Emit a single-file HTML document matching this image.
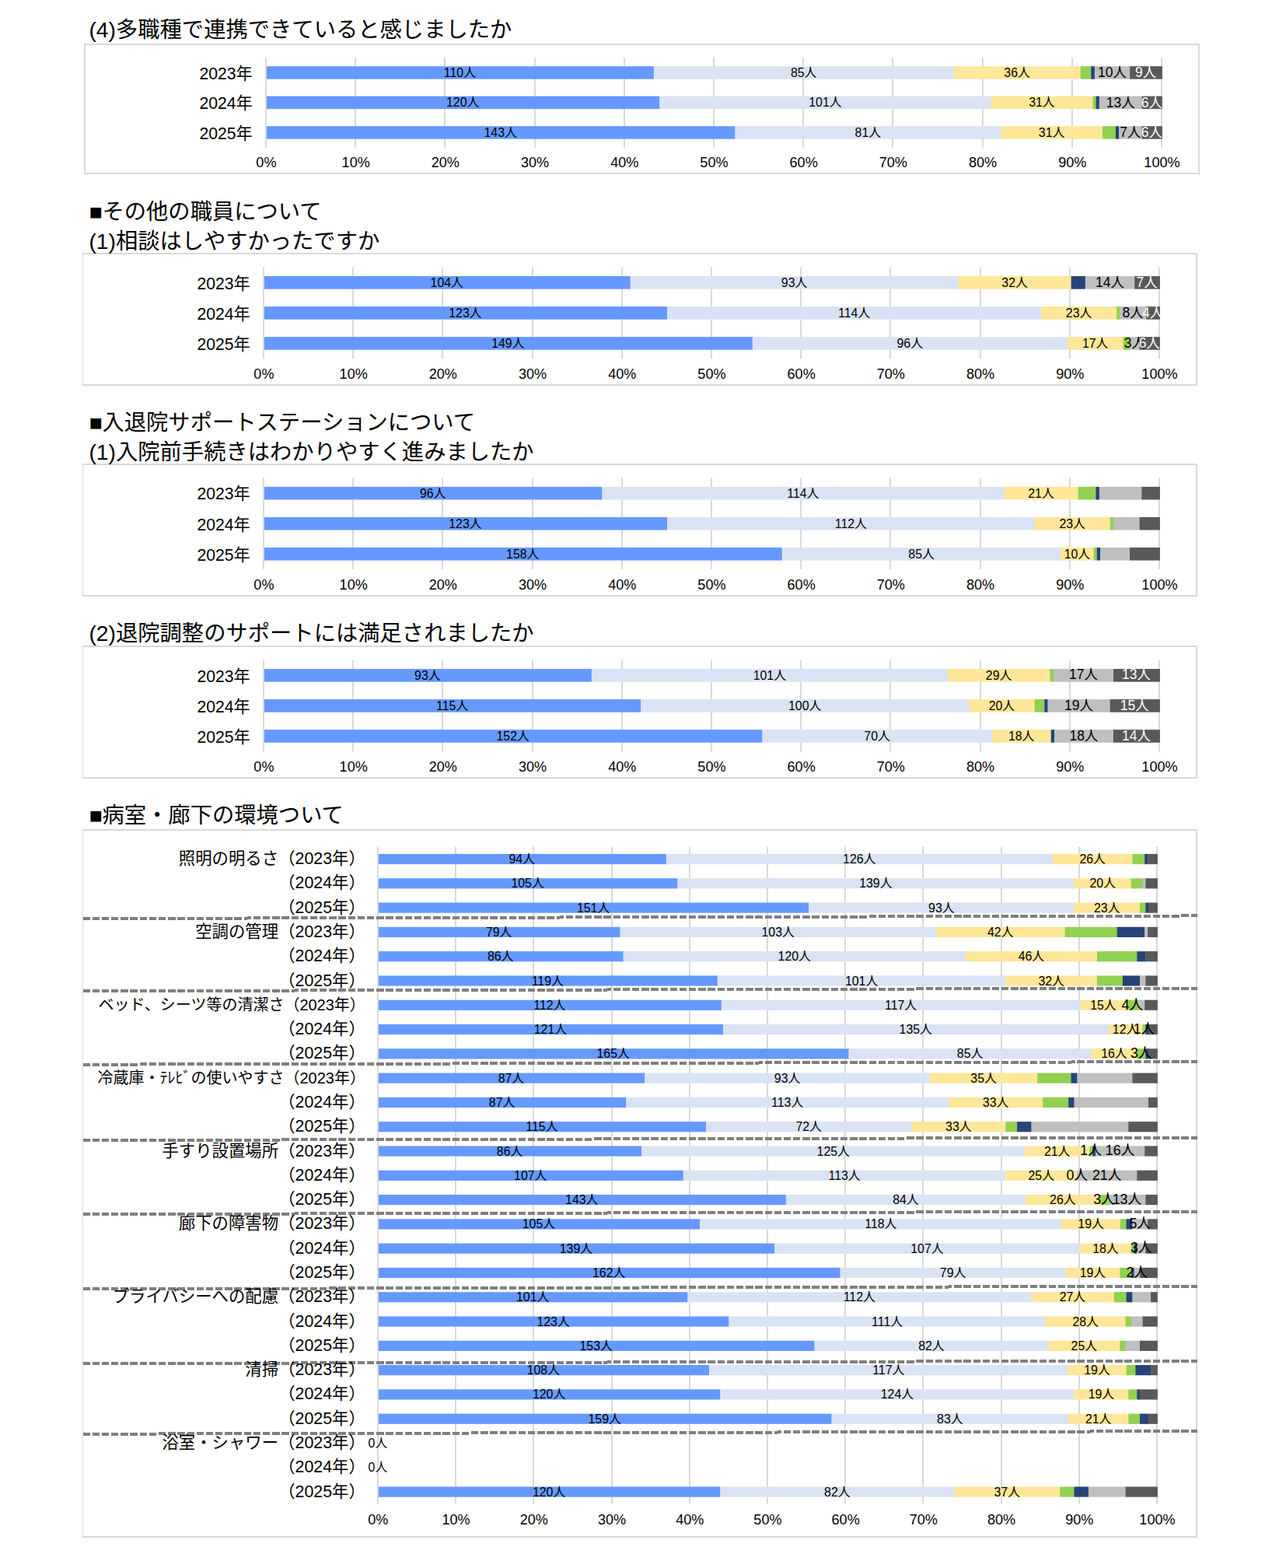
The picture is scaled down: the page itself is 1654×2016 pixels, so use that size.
<!DOCTYPE html>
<html lang="ja">
<head>
<meta charset="utf-8">
<title>患者満足度調査 集計グラフ</title>
<style>
html,body{margin:0;padding:0;background:#fff}
body{position:relative;width:1654px;height:2016px;overflow:hidden;font-family:"Liberation Sans","Noto Sans CJK JP",sans-serif}
svg{position:absolute;left:0;top:0;display:block}
#tl span,#tl h2{position:absolute;display:block;margin:0;font-weight:normal;white-space:nowrap;overflow:visible;line-height:1;color:#000;font-family:"Liberation Sans","Noto Sans CJK JP",sans-serif}
#tl span{text-align:center}
#tl span.r{display:flex;justify-content:flex-end;text-align:right}
#tl span.w{color:#fff}
</style>
</head>
<body>
<svg width="1654" height="2016" viewBox="0 0 1654 2016">
<g id="shapes">
<path fill="#D9D9D9" fill-rule="evenodd" d="M108 56H1543V224H108ZM110 58H1541V222H110Z"/>
<rect x="341" y="74.20" width="2" height="115.60" fill="#D9D9D9"/>
<rect x="456" y="74.20" width="2" height="115.60" fill="#D9D9D9"/>
<rect x="571" y="74.20" width="2" height="115.60" fill="#D9D9D9"/>
<rect x="687" y="74.20" width="2" height="115.60" fill="#D9D9D9"/>
<rect x="802" y="74.20" width="2" height="115.60" fill="#D9D9D9"/>
<rect x="917" y="74.20" width="2" height="115.60" fill="#D9D9D9"/>
<rect x="1032" y="74.20" width="2" height="115.60" fill="#D9D9D9"/>
<rect x="1147" y="74.20" width="2" height="115.60" fill="#D9D9D9"/>
<rect x="1263" y="74.20" width="2" height="115.60" fill="#D9D9D9"/>
<rect x="1378" y="74.20" width="2" height="115.60" fill="#D9D9D9"/>
<rect x="1493" y="74.20" width="2" height="115.60" fill="#D9D9D9"/>
<rect x="342.00" y="85.20" width="499.20" height="16.50" fill="#6699FF"/>
<rect x="840.90" y="85.20" width="385.81" height="16.50" fill="#DAE3F3"/>
<rect x="1226.41" y="85.20" width="163.58" height="16.50" fill="#FFE699"/>
<rect x="1389.69" y="85.20" width="13.91" height="16.50" fill="#92D050"/>
<rect x="1403.29" y="85.20" width="4.84" height="16.50" fill="#264478"/>
<rect x="1407.83" y="85.20" width="45.65" height="16.50" fill="#BFBFBF"/>
<rect x="1453.18" y="85.20" width="41.72" height="16.50" fill="#595959"/>
<rect x="342.00" y="123.65" width="506.67" height="16.50" fill="#6699FF"/>
<rect x="848.37" y="123.65" width="426.50" height="16.50" fill="#DAE3F3"/>
<rect x="1274.57" y="123.65" width="131.11" height="16.50" fill="#FFE699"/>
<rect x="1405.38" y="123.65" width="4.52" height="16.50" fill="#92D050"/>
<rect x="1409.60" y="123.65" width="4.52" height="16.50" fill="#264478"/>
<rect x="1413.82" y="123.65" width="55.16" height="16.50" fill="#BFBFBF"/>
<rect x="1468.68" y="123.65" width="26.22" height="16.50" fill="#595959"/>
<rect x="342.00" y="162.20" width="603.73" height="16.50" fill="#6699FF"/>
<rect x="945.43" y="162.20" width="342.10" height="16.50" fill="#DAE3F3"/>
<rect x="1287.23" y="162.20" width="131.11" height="16.50" fill="#FFE699"/>
<rect x="1418.04" y="162.20" width="17.18" height="16.50" fill="#92D050"/>
<rect x="1434.92" y="162.20" width="4.52" height="16.50" fill="#264478"/>
<rect x="1439.14" y="162.20" width="29.84" height="16.50" fill="#BFBFBF"/>
<rect x="1468.68" y="162.20" width="26.22" height="16.50" fill="#595959"/>
<rect x="341" y="74.20" width="2" height="115.60" fill="#D9D9D9"/>
<path fill="#D9D9D9" fill-rule="evenodd" d="M106 325H1540V496H106ZM107 327H1538V494H107Z"/>
<rect x="338" y="343.60" width="2" height="117.60" fill="#D9D9D9"/>
<rect x="453" y="343.60" width="2" height="117.60" fill="#D9D9D9"/>
<rect x="568" y="343.60" width="2" height="117.60" fill="#D9D9D9"/>
<rect x="684" y="343.60" width="2" height="117.60" fill="#D9D9D9"/>
<rect x="799" y="343.60" width="2" height="117.60" fill="#D9D9D9"/>
<rect x="914" y="343.60" width="2" height="117.60" fill="#D9D9D9"/>
<rect x="1029" y="343.60" width="2" height="117.60" fill="#D9D9D9"/>
<rect x="1144" y="343.60" width="2" height="117.60" fill="#D9D9D9"/>
<rect x="1260" y="343.60" width="2" height="117.60" fill="#D9D9D9"/>
<rect x="1375" y="343.60" width="2" height="117.60" fill="#D9D9D9"/>
<rect x="1490" y="343.60" width="2" height="117.60" fill="#D9D9D9"/>
<rect x="339.00" y="355.05" width="471.99" height="16.60" fill="#6699FF"/>
<rect x="810.69" y="355.05" width="422.10" height="16.60" fill="#DAE3F3"/>
<rect x="1232.48" y="355.05" width="145.43" height="16.60" fill="#FFE699"/>
<rect x="1377.61" y="355.05" width="18.44" height="16.60" fill="#264478"/>
<rect x="1395.76" y="355.05" width="63.80" height="16.60" fill="#BFBFBF"/>
<rect x="1459.25" y="355.05" width="32.65" height="16.60" fill="#595959"/>
<rect x="339.00" y="394.10" width="519.33" height="16.60" fill="#6699FF"/>
<rect x="858.03" y="394.10" width="481.35" height="16.60" fill="#DAE3F3"/>
<rect x="1339.09" y="394.10" width="97.35" height="16.60" fill="#FFE699"/>
<rect x="1436.14" y="394.10" width="4.52" height="16.60" fill="#92D050"/>
<rect x="1440.36" y="394.10" width="34.06" height="16.60" fill="#BFBFBF"/>
<rect x="1474.12" y="394.10" width="17.78" height="16.60" fill="#595959"/>
<rect x="339.00" y="433.15" width="629.05" height="16.60" fill="#6699FF"/>
<rect x="967.75" y="433.15" width="405.40" height="16.60" fill="#DAE3F3"/>
<rect x="1372.85" y="433.15" width="72.04" height="16.60" fill="#FFE699"/>
<rect x="1444.58" y="433.15" width="8.74" height="16.60" fill="#92D050"/>
<rect x="1453.02" y="433.15" width="12.96" height="16.60" fill="#BFBFBF"/>
<rect x="1465.68" y="433.15" width="26.22" height="16.60" fill="#595959"/>
<rect x="338" y="343.60" width="2" height="117.60" fill="#D9D9D9"/>
<path fill="#D9D9D9" fill-rule="evenodd" d="M106 596H1540V767H106ZM107 598H1538V765H107Z"/>
<rect x="338" y="614.40" width="2" height="117.60" fill="#D9D9D9"/>
<rect x="453" y="614.40" width="2" height="117.60" fill="#D9D9D9"/>
<rect x="568" y="614.40" width="2" height="117.60" fill="#D9D9D9"/>
<rect x="684" y="614.40" width="2" height="117.60" fill="#D9D9D9"/>
<rect x="799" y="614.40" width="2" height="117.60" fill="#D9D9D9"/>
<rect x="914" y="614.40" width="2" height="117.60" fill="#D9D9D9"/>
<rect x="1029" y="614.40" width="2" height="117.60" fill="#D9D9D9"/>
<rect x="1144" y="614.40" width="2" height="117.60" fill="#D9D9D9"/>
<rect x="1260" y="614.40" width="2" height="117.60" fill="#D9D9D9"/>
<rect x="1375" y="614.40" width="2" height="117.60" fill="#D9D9D9"/>
<rect x="1490" y="614.40" width="2" height="117.60" fill="#D9D9D9"/>
<rect x="339.00" y="625.85" width="435.70" height="16.60" fill="#6699FF"/>
<rect x="774.40" y="625.85" width="517.34" height="16.60" fill="#DAE3F3"/>
<rect x="1291.44" y="625.85" width="95.54" height="16.60" fill="#FFE699"/>
<rect x="1386.69" y="625.85" width="22.98" height="16.60" fill="#92D050"/>
<rect x="1409.36" y="625.85" width="4.84" height="16.60" fill="#264478"/>
<rect x="1413.90" y="625.85" width="54.73" height="16.60" fill="#BFBFBF"/>
<rect x="1468.32" y="625.85" width="23.58" height="16.60" fill="#595959"/>
<rect x="339.00" y="664.90" width="519.33" height="16.60" fill="#6699FF"/>
<rect x="858.03" y="664.90" width="472.92" height="16.60" fill="#DAE3F3"/>
<rect x="1330.65" y="664.90" width="97.35" height="16.60" fill="#FFE699"/>
<rect x="1427.70" y="664.90" width="4.52" height="16.60" fill="#92D050"/>
<rect x="1431.92" y="664.90" width="34.06" height="16.60" fill="#BFBFBF"/>
<rect x="1465.68" y="664.90" width="26.22" height="16.60" fill="#595959"/>
<rect x="339.00" y="703.95" width="667.03" height="16.60" fill="#6699FF"/>
<rect x="1005.73" y="703.95" width="358.98" height="16.60" fill="#DAE3F3"/>
<rect x="1364.41" y="703.95" width="42.50" height="16.60" fill="#FFE699"/>
<rect x="1406.60" y="703.95" width="4.52" height="16.60" fill="#92D050"/>
<rect x="1410.82" y="703.95" width="4.52" height="16.60" fill="#264478"/>
<rect x="1415.04" y="703.95" width="38.28" height="16.60" fill="#BFBFBF"/>
<rect x="1453.02" y="703.95" width="38.88" height="16.60" fill="#595959"/>
<rect x="338" y="614.40" width="2" height="117.60" fill="#D9D9D9"/>
<path fill="#D9D9D9" fill-rule="evenodd" d="M106 830H1540V1001H106ZM107 832H1538V999H107Z"/>
<rect x="338" y="848.60" width="2" height="117.60" fill="#D9D9D9"/>
<rect x="453" y="848.60" width="2" height="117.60" fill="#D9D9D9"/>
<rect x="568" y="848.60" width="2" height="117.60" fill="#D9D9D9"/>
<rect x="684" y="848.60" width="2" height="117.60" fill="#D9D9D9"/>
<rect x="799" y="848.60" width="2" height="117.60" fill="#D9D9D9"/>
<rect x="914" y="848.60" width="2" height="117.60" fill="#D9D9D9"/>
<rect x="1029" y="848.60" width="2" height="117.60" fill="#D9D9D9"/>
<rect x="1144" y="848.60" width="2" height="117.60" fill="#D9D9D9"/>
<rect x="1260" y="848.60" width="2" height="117.60" fill="#D9D9D9"/>
<rect x="1375" y="848.60" width="2" height="117.60" fill="#D9D9D9"/>
<rect x="1490" y="848.60" width="2" height="117.60" fill="#D9D9D9"/>
<rect x="339.00" y="860.05" width="422.10" height="16.60" fill="#6699FF"/>
<rect x="760.80" y="860.05" width="458.38" height="16.60" fill="#DAE3F3"/>
<rect x="1218.87" y="860.05" width="131.83" height="16.60" fill="#FFE699"/>
<rect x="1350.40" y="860.05" width="4.84" height="16.60" fill="#92D050"/>
<rect x="1354.94" y="860.05" width="77.40" height="16.60" fill="#BFBFBF"/>
<rect x="1432.04" y="860.05" width="59.86" height="16.60" fill="#595959"/>
<rect x="339.00" y="899.10" width="485.57" height="16.60" fill="#6699FF"/>
<rect x="824.27" y="899.10" width="422.28" height="16.60" fill="#DAE3F3"/>
<rect x="1246.25" y="899.10" width="84.70" height="16.60" fill="#FFE699"/>
<rect x="1330.65" y="899.10" width="12.96" height="16.60" fill="#92D050"/>
<rect x="1343.31" y="899.10" width="4.52" height="16.60" fill="#264478"/>
<rect x="1347.53" y="899.10" width="80.48" height="16.60" fill="#BFBFBF"/>
<rect x="1427.70" y="899.10" width="64.20" height="16.60" fill="#595959"/>
<rect x="339.00" y="938.15" width="641.71" height="16.60" fill="#6699FF"/>
<rect x="980.41" y="938.15" width="295.68" height="16.60" fill="#DAE3F3"/>
<rect x="1275.79" y="938.15" width="76.26" height="16.60" fill="#FFE699"/>
<rect x="1351.75" y="938.15" width="4.52" height="16.60" fill="#264478"/>
<rect x="1355.97" y="938.15" width="76.26" height="16.60" fill="#BFBFBF"/>
<rect x="1431.92" y="938.15" width="59.98" height="16.60" fill="#595959"/>
<rect x="338" y="848.60" width="2" height="117.60" fill="#D9D9D9"/>
<path fill="#D9D9D9" fill-rule="evenodd" d="M106 1066H1540V1977H106ZM107 1068H1538V1975H107Z"/>
<rect x="485" y="1088.60" width="2" height="845.00" fill="#D9D9D9"/>
<rect x="585" y="1088.60" width="2" height="845.00" fill="#D9D9D9"/>
<rect x="685" y="1088.60" width="2" height="845.00" fill="#D9D9D9"/>
<rect x="786" y="1088.60" width="2" height="845.00" fill="#D9D9D9"/>
<rect x="886" y="1088.60" width="2" height="845.00" fill="#D9D9D9"/>
<rect x="986" y="1088.60" width="2" height="845.00" fill="#D9D9D9"/>
<rect x="1086" y="1088.60" width="2" height="845.00" fill="#D9D9D9"/>
<rect x="1186" y="1088.60" width="2" height="845.00" fill="#D9D9D9"/>
<rect x="1287" y="1088.60" width="2" height="845.00" fill="#D9D9D9"/>
<rect x="1387" y="1088.60" width="2" height="845.00" fill="#D9D9D9"/>
<rect x="1487" y="1088.60" width="2" height="845.00" fill="#D9D9D9"/>
<rect x="485.90" y="1097.95" width="371.16" height="13.20" fill="#6699FF"/>
<rect x="856.76" y="1097.95" width="497.40" height="13.20" fill="#DAE3F3"/>
<rect x="1353.86" y="1097.95" width="102.88" height="13.20" fill="#FFE699"/>
<rect x="1456.44" y="1097.95" width="16.08" height="13.20" fill="#92D050"/>
<rect x="1472.22" y="1097.95" width="4.25" height="13.20" fill="#264478"/>
<rect x="1476.16" y="1097.95" width="12.74" height="13.20" fill="#595959"/>
<rect x="485.90" y="1129.24" width="385.72" height="13.20" fill="#6699FF"/>
<rect x="871.32" y="1129.24" width="510.53" height="13.20" fill="#DAE3F3"/>
<rect x="1381.55" y="1129.24" width="73.71" height="13.20" fill="#FFE699"/>
<rect x="1454.96" y="1129.24" width="14.98" height="13.20" fill="#92D050"/>
<rect x="1469.65" y="1129.24" width="3.97" height="13.20" fill="#BFBFBF"/>
<rect x="1473.32" y="1129.24" width="15.58" height="13.20" fill="#595959"/>
<rect x="485.90" y="1160.53" width="554.58" height="13.20" fill="#6699FF"/>
<rect x="1040.18" y="1160.53" width="341.67" height="13.20" fill="#DAE3F3"/>
<rect x="1381.55" y="1160.53" width="84.73" height="13.20" fill="#FFE699"/>
<rect x="1465.98" y="1160.53" width="7.64" height="13.20" fill="#92D050"/>
<rect x="1473.32" y="1160.53" width="3.97" height="13.20" fill="#264478"/>
<rect x="1476.99" y="1160.53" width="11.91" height="13.20" fill="#595959"/>
<rect x="485.90" y="1191.82" width="311.98" height="13.20" fill="#6699FF"/>
<rect x="797.58" y="1191.82" width="406.66" height="13.20" fill="#DAE3F3"/>
<rect x="1203.94" y="1191.82" width="166.00" height="13.20" fill="#FFE699"/>
<rect x="1369.64" y="1191.82" width="67.37" height="13.20" fill="#92D050"/>
<rect x="1436.71" y="1191.82" width="35.81" height="13.20" fill="#264478"/>
<rect x="1472.22" y="1191.82" width="4.25" height="13.20" fill="#BFBFBF"/>
<rect x="1476.16" y="1191.82" width="12.74" height="13.20" fill="#595959"/>
<rect x="485.90" y="1223.11" width="315.98" height="13.20" fill="#6699FF"/>
<rect x="801.58" y="1223.11" width="440.78" height="13.20" fill="#DAE3F3"/>
<rect x="1242.06" y="1223.11" width="169.15" height="13.20" fill="#FFE699"/>
<rect x="1410.92" y="1223.11" width="51.69" height="13.20" fill="#92D050"/>
<rect x="1462.31" y="1223.11" width="11.31" height="13.20" fill="#264478"/>
<rect x="1473.32" y="1223.11" width="15.58" height="13.20" fill="#595959"/>
<rect x="485.90" y="1254.40" width="437.11" height="13.20" fill="#6699FF"/>
<rect x="922.71" y="1254.40" width="371.04" height="13.20" fill="#DAE3F3"/>
<rect x="1293.45" y="1254.40" width="117.76" height="13.20" fill="#FFE699"/>
<rect x="1410.92" y="1254.40" width="33.34" height="13.20" fill="#92D050"/>
<rect x="1443.95" y="1254.40" width="22.32" height="13.20" fill="#264478"/>
<rect x="1465.98" y="1254.40" width="7.64" height="13.20" fill="#BFBFBF"/>
<rect x="1473.32" y="1254.40" width="15.58" height="13.20" fill="#595959"/>
<rect x="485.90" y="1285.69" width="442.17" height="13.20" fill="#6699FF"/>
<rect x="927.77" y="1285.69" width="461.90" height="13.20" fill="#DAE3F3"/>
<rect x="1389.37" y="1285.69" width="59.48" height="13.20" fill="#FFE699"/>
<rect x="1448.55" y="1285.69" width="16.08" height="13.20" fill="#92D050"/>
<rect x="1464.33" y="1285.69" width="8.19" height="13.20" fill="#BFBFBF"/>
<rect x="1472.22" y="1285.69" width="16.68" height="13.20" fill="#595959"/>
<rect x="485.90" y="1316.98" width="444.45" height="13.20" fill="#6699FF"/>
<rect x="930.05" y="1316.98" width="495.84" height="13.20" fill="#DAE3F3"/>
<rect x="1425.60" y="1316.98" width="44.35" height="13.20" fill="#FFE699"/>
<rect x="1469.65" y="1316.98" width="3.97" height="13.20" fill="#92D050"/>
<rect x="1473.32" y="1316.98" width="3.97" height="13.20" fill="#264478"/>
<rect x="1476.99" y="1316.98" width="11.91" height="13.20" fill="#595959"/>
<rect x="485.90" y="1348.27" width="605.96" height="13.20" fill="#6699FF"/>
<rect x="1091.56" y="1348.27" width="312.31" height="13.20" fill="#DAE3F3"/>
<rect x="1403.57" y="1348.27" width="59.03" height="13.20" fill="#FFE699"/>
<rect x="1462.31" y="1348.27" width="11.31" height="13.20" fill="#92D050"/>
<rect x="1473.32" y="1348.27" width="3.97" height="13.20" fill="#264478"/>
<rect x="1476.99" y="1348.27" width="11.91" height="13.20" fill="#595959"/>
<rect x="485.90" y="1379.56" width="343.54" height="13.20" fill="#6699FF"/>
<rect x="829.14" y="1379.56" width="367.21" height="13.20" fill="#DAE3F3"/>
<rect x="1196.05" y="1379.56" width="138.38" height="13.20" fill="#FFE699"/>
<rect x="1334.13" y="1379.56" width="43.70" height="13.20" fill="#92D050"/>
<rect x="1377.53" y="1379.56" width="8.19" height="13.20" fill="#264478"/>
<rect x="1385.42" y="1379.56" width="71.31" height="13.20" fill="#BFBFBF"/>
<rect x="1456.44" y="1379.56" width="32.46" height="13.20" fill="#595959"/>
<rect x="485.90" y="1410.85" width="319.65" height="13.20" fill="#6699FF"/>
<rect x="805.25" y="1410.85" width="415.09" height="13.20" fill="#DAE3F3"/>
<rect x="1220.04" y="1410.85" width="121.43" height="13.20" fill="#FFE699"/>
<rect x="1341.17" y="1410.85" width="33.34" height="13.20" fill="#92D050"/>
<rect x="1374.21" y="1410.85" width="7.64" height="13.20" fill="#264478"/>
<rect x="1381.55" y="1410.85" width="95.74" height="13.20" fill="#BFBFBF"/>
<rect x="1476.99" y="1410.85" width="11.91" height="13.20" fill="#595959"/>
<rect x="485.90" y="1442.14" width="422.43" height="13.20" fill="#6699FF"/>
<rect x="908.03" y="1442.14" width="264.59" height="13.20" fill="#DAE3F3"/>
<rect x="1172.32" y="1442.14" width="121.43" height="13.20" fill="#FFE699"/>
<rect x="1293.45" y="1442.14" width="14.98" height="13.20" fill="#92D050"/>
<rect x="1308.14" y="1442.14" width="18.65" height="13.20" fill="#264478"/>
<rect x="1326.49" y="1442.14" width="125.10" height="13.20" fill="#BFBFBF"/>
<rect x="1451.29" y="1442.14" width="37.61" height="13.20" fill="#595959"/>
<rect x="485.90" y="1473.43" width="339.59" height="13.20" fill="#6699FF"/>
<rect x="825.19" y="1473.43" width="493.46" height="13.20" fill="#DAE3F3"/>
<rect x="1318.35" y="1473.43" width="83.15" height="13.20" fill="#FFE699"/>
<rect x="1401.20" y="1473.43" width="4.25" height="13.20" fill="#92D050"/>
<rect x="1405.15" y="1473.43" width="4.25" height="13.20" fill="#264478"/>
<rect x="1409.09" y="1473.43" width="63.42" height="13.20" fill="#BFBFBF"/>
<rect x="1472.22" y="1473.43" width="16.68" height="13.20" fill="#595959"/>
<rect x="485.90" y="1504.72" width="393.06" height="13.20" fill="#6699FF"/>
<rect x="878.66" y="1504.72" width="415.09" height="13.20" fill="#DAE3F3"/>
<rect x="1293.45" y="1504.72" width="92.07" height="13.20" fill="#FFE699"/>
<rect x="1385.22" y="1504.72" width="77.38" height="13.20" fill="#BFBFBF"/>
<rect x="1462.31" y="1504.72" width="26.59" height="13.20" fill="#595959"/>
<rect x="485.90" y="1536.01" width="525.21" height="13.20" fill="#6699FF"/>
<rect x="1010.81" y="1536.01" width="308.64" height="13.20" fill="#DAE3F3"/>
<rect x="1319.15" y="1536.01" width="95.74" height="13.20" fill="#FFE699"/>
<rect x="1414.59" y="1536.01" width="11.31" height="13.20" fill="#92D050"/>
<rect x="1425.60" y="1536.01" width="48.02" height="13.20" fill="#BFBFBF"/>
<rect x="1473.32" y="1536.01" width="15.58" height="13.20" fill="#595959"/>
<rect x="485.90" y="1567.30" width="414.55" height="13.20" fill="#6699FF"/>
<rect x="900.15" y="1567.30" width="465.84" height="13.20" fill="#DAE3F3"/>
<rect x="1365.70" y="1567.30" width="75.26" height="13.20" fill="#FFE699"/>
<rect x="1440.66" y="1567.30" width="8.19" height="13.20" fill="#92D050"/>
<rect x="1448.55" y="1567.30" width="8.19" height="13.20" fill="#264478"/>
<rect x="1456.44" y="1567.30" width="20.03" height="13.20" fill="#BFBFBF"/>
<rect x="1476.16" y="1567.30" width="12.74" height="13.20" fill="#595959"/>
<rect x="485.90" y="1598.59" width="510.53" height="13.20" fill="#6699FF"/>
<rect x="996.13" y="1598.59" width="393.06" height="13.20" fill="#DAE3F3"/>
<rect x="1388.89" y="1598.59" width="66.37" height="13.20" fill="#FFE699"/>
<rect x="1454.96" y="1598.59" width="3.97" height="13.20" fill="#92D050"/>
<rect x="1458.63" y="1598.59" width="3.97" height="13.20" fill="#264478"/>
<rect x="1462.31" y="1598.59" width="11.31" height="13.20" fill="#BFBFBF"/>
<rect x="1473.32" y="1598.59" width="15.58" height="13.20" fill="#595959"/>
<rect x="485.90" y="1629.88" width="594.95" height="13.20" fill="#6699FF"/>
<rect x="1080.55" y="1629.88" width="290.28" height="13.20" fill="#DAE3F3"/>
<rect x="1370.54" y="1629.88" width="70.04" height="13.20" fill="#FFE699"/>
<rect x="1440.28" y="1629.88" width="14.98" height="13.20" fill="#92D050"/>
<rect x="1454.96" y="1629.88" width="3.97" height="13.20" fill="#264478"/>
<rect x="1458.63" y="1629.88" width="7.64" height="13.20" fill="#BFBFBF"/>
<rect x="1465.98" y="1629.88" width="22.92" height="13.20" fill="#595959"/>
<rect x="485.90" y="1661.17" width="398.77" height="13.20" fill="#6699FF"/>
<rect x="884.37" y="1661.17" width="442.17" height="13.20" fill="#DAE3F3"/>
<rect x="1326.24" y="1661.17" width="106.82" height="13.20" fill="#FFE699"/>
<rect x="1432.77" y="1661.17" width="16.08" height="13.20" fill="#92D050"/>
<rect x="1448.55" y="1661.17" width="8.19" height="13.20" fill="#264478"/>
<rect x="1456.44" y="1661.17" width="23.97" height="13.20" fill="#BFBFBF"/>
<rect x="1480.11" y="1661.17" width="8.79" height="13.20" fill="#595959"/>
<rect x="485.90" y="1692.46" width="451.80" height="13.20" fill="#6699FF"/>
<rect x="937.40" y="1692.46" width="407.75" height="13.20" fill="#DAE3F3"/>
<rect x="1344.84" y="1692.46" width="103.08" height="13.20" fill="#FFE699"/>
<rect x="1447.62" y="1692.46" width="7.64" height="13.20" fill="#92D050"/>
<rect x="1454.96" y="1692.46" width="14.98" height="13.20" fill="#BFBFBF"/>
<rect x="1469.65" y="1692.46" width="19.25" height="13.20" fill="#595959"/>
<rect x="485.90" y="1723.75" width="561.92" height="13.20" fill="#6699FF"/>
<rect x="1047.52" y="1723.75" width="301.30" height="13.20" fill="#DAE3F3"/>
<rect x="1348.51" y="1723.75" width="92.07" height="13.20" fill="#FFE699"/>
<rect x="1440.28" y="1723.75" width="7.64" height="13.20" fill="#92D050"/>
<rect x="1447.62" y="1723.75" width="18.65" height="13.20" fill="#BFBFBF"/>
<rect x="1465.98" y="1723.75" width="22.92" height="13.20" fill="#595959"/>
<rect x="485.90" y="1755.04" width="426.39" height="13.20" fill="#6699FF"/>
<rect x="911.99" y="1755.04" width="461.90" height="13.20" fill="#DAE3F3"/>
<rect x="1373.59" y="1755.04" width="75.26" height="13.20" fill="#FFE699"/>
<rect x="1448.55" y="1755.04" width="12.14" height="13.20" fill="#92D050"/>
<rect x="1460.38" y="1755.04" width="20.03" height="13.20" fill="#264478"/>
<rect x="1480.11" y="1755.04" width="8.79" height="13.20" fill="#595959"/>
<rect x="485.90" y="1786.33" width="440.78" height="13.20" fill="#6699FF"/>
<rect x="926.38" y="1786.33" width="455.47" height="13.20" fill="#DAE3F3"/>
<rect x="1381.55" y="1786.33" width="70.04" height="13.20" fill="#FFE699"/>
<rect x="1451.29" y="1786.33" width="11.31" height="13.20" fill="#92D050"/>
<rect x="1462.31" y="1786.33" width="3.97" height="13.20" fill="#264478"/>
<rect x="1465.98" y="1786.33" width="22.92" height="13.20" fill="#595959"/>
<rect x="485.90" y="1817.62" width="583.94" height="13.20" fill="#6699FF"/>
<rect x="1069.54" y="1817.62" width="304.97" height="13.20" fill="#DAE3F3"/>
<rect x="1374.21" y="1817.62" width="77.38" height="13.20" fill="#FFE699"/>
<rect x="1451.29" y="1817.62" width="14.98" height="13.20" fill="#92D050"/>
<rect x="1465.98" y="1817.62" width="11.31" height="13.20" fill="#264478"/>
<rect x="1476.99" y="1817.62" width="11.91" height="13.20" fill="#595959"/>
<rect x="485.90" y="1911.49" width="440.78" height="13.20" fill="#6699FF"/>
<rect x="926.38" y="1911.49" width="301.30" height="13.20" fill="#DAE3F3"/>
<rect x="1227.38" y="1911.49" width="136.12" height="13.20" fill="#FFE699"/>
<rect x="1363.20" y="1911.49" width="18.65" height="13.20" fill="#92D050"/>
<rect x="1381.55" y="1911.49" width="18.65" height="13.20" fill="#264478"/>
<rect x="1399.90" y="1911.49" width="48.02" height="13.20" fill="#BFBFBF"/>
<rect x="1447.62" y="1911.49" width="41.28" height="13.20" fill="#595959"/>
<rect x="485" y="1088.60" width="2" height="845.00" fill="#D9D9D9"/>
<line x1="106.6" y1="1181.04" x2="1540.2" y2="1177.46" stroke="#7F7F7F" stroke-width="4" stroke-dasharray="9.35 2.83" shape-rendering="crispEdges"/>
<line x1="106.6" y1="1274.19" x2="1540.2" y2="1270.61" stroke="#7F7F7F" stroke-width="4" stroke-dasharray="9.35 2.83" shape-rendering="crispEdges"/>
<line x1="106.6" y1="1368.68" x2="1540.2" y2="1365.10" stroke="#7F7F7F" stroke-width="4" stroke-dasharray="9.35 2.83" shape-rendering="crispEdges"/>
<line x1="106.6" y1="1466.14" x2="1540.2" y2="1462.56" stroke="#7F7F7F" stroke-width="4" stroke-dasharray="9.35 2.83" shape-rendering="crispEdges"/>
<line x1="106.6" y1="1561.19" x2="1540.2" y2="1557.61" stroke="#7F7F7F" stroke-width="4" stroke-dasharray="9.35 2.83" shape-rendering="crispEdges"/>
<line x1="106.6" y1="1657.29" x2="1540.2" y2="1653.71" stroke="#7F7F7F" stroke-width="4" stroke-dasharray="9.35 2.83" shape-rendering="crispEdges"/>
<line x1="106.6" y1="1753.19" x2="1540.2" y2="1749.61" stroke="#7F7F7F" stroke-width="4" stroke-dasharray="9.35 2.83" shape-rendering="crispEdges"/>
<line x1="106.6" y1="1843.74" x2="1540.2" y2="1840.16" stroke="#7F7F7F" stroke-width="4" stroke-dasharray="9.35 2.83" shape-rendering="crispEdges"/>
</g>
</svg>
<div id="tl">
<section>
<h2 style="left:114.4px;top:24.3px;font-size:28.3px;width:544.5px">(4)多職種で連携できていると感じましたか</h2>
<span style="left:326.5px;top:200.1px;font-size:18.1px;width:31.9px">0%</span>
<span style="left:436.0px;top:200.1px;font-size:18.1px;width:43.4px">10%</span>
<span style="left:550.0px;top:200.1px;font-size:18.1px;width:45.7px">20%</span>
<span style="left:665.2px;top:200.1px;font-size:18.1px;width:45.7px">30%</span>
<span style="left:780.4px;top:200.1px;font-size:18.1px;width:45.7px">40%</span>
<span style="left:895.6px;top:200.1px;font-size:18.1px;width:45.7px">50%</span>
<span style="left:1010.8px;top:200.1px;font-size:18.1px;width:45.7px">60%</span>
<span style="left:1126.0px;top:200.1px;font-size:18.1px;width:45.7px">70%</span>
<span style="left:1241.2px;top:200.1px;font-size:18.1px;width:45.7px">80%</span>
<span style="left:1356.4px;top:200.1px;font-size:18.1px;width:45.7px">90%</span>
<span style="left:1465.9px;top:200.1px;font-size:18.1px;width:57.2px">100%</span>
<span class="r" style="left:239.2px;top:83.7px;font-size:21.2px;width:85.6px">2023年</span>
<span style="left:567.4px;top:86.0px;font-size:15.9px;width:48.2px">110人</span>
<span style="left:1013.6px;top:86.0px;font-size:15.9px;width:40.2px">85人</span>
<span style="left:1288.0px;top:86.0px;font-size:15.9px;width:40.2px">36人</span>
<span style="left:1409.6px;top:85.3px;font-size:17.5px;width:41.8px">10人</span>
<span class="w" style="left:1458.2px;top:85.3px;font-size:17.5px;width:30.8px">9人</span>
<span class="r" style="left:239.2px;top:122.2px;font-size:21.2px;width:85.6px">2024年</span>
<span style="left:570.1px;top:124.4px;font-size:15.9px;width:50.2px">120人</span>
<span style="left:1037.4px;top:124.4px;font-size:15.9px;width:48.2px">101人</span>
<span style="left:1320.9px;top:124.4px;font-size:15.9px;width:38.1px">31人</span>
<span style="left:1420.3px;top:123.8px;font-size:17.5px;width:41.8px">13人</span>
<span class="w" style="left:1465.9px;top:123.8px;font-size:17.5px;width:30.8px">6人</span>
<span class="r" style="left:239.2px;top:160.7px;font-size:21.2px;width:85.6px">2025年</span>
<span style="left:618.6px;top:163.0px;font-size:15.9px;width:50.2px">143人</span>
<span style="left:1097.3px;top:163.0px;font-size:15.9px;width:38.1px">81人</span>
<span style="left:1333.6px;top:163.0px;font-size:15.9px;width:38.1px">31人</span>
<span style="left:1438.5px;top:162.3px;font-size:17.5px;width:30.8px">7人</span>
<span class="w" style="left:1465.9px;top:162.3px;font-size:17.5px;width:30.8px">6人</span>
</section>
<section>
<h2 style="left:114.4px;top:258.4px;font-size:28.3px;width:307.7px">■その他の職員について</h2>
<h2 style="left:114.4px;top:295.6px;font-size:28.3px;width:372.9px">(1)相談はしやすかったですか</h2>
<span style="left:323.5px;top:472.1px;font-size:18.1px;width:31.9px">0%</span>
<span style="left:433.0px;top:472.1px;font-size:18.1px;width:43.4px">10%</span>
<span style="left:547.0px;top:472.1px;font-size:18.1px;width:45.7px">20%</span>
<span style="left:662.2px;top:472.1px;font-size:18.1px;width:45.7px">30%</span>
<span style="left:777.4px;top:472.1px;font-size:18.1px;width:45.7px">40%</span>
<span style="left:892.6px;top:472.1px;font-size:18.1px;width:45.7px">50%</span>
<span style="left:1007.8px;top:472.1px;font-size:18.1px;width:45.7px">60%</span>
<span style="left:1123.0px;top:472.1px;font-size:18.1px;width:45.7px">70%</span>
<span style="left:1238.2px;top:472.1px;font-size:18.1px;width:45.7px">80%</span>
<span style="left:1353.4px;top:472.1px;font-size:18.1px;width:45.7px">90%</span>
<span style="left:1462.9px;top:472.1px;font-size:18.1px;width:57.2px">100%</span>
<span class="r" style="left:236.2px;top:353.6px;font-size:21.2px;width:85.6px">2023年</span>
<span style="left:549.7px;top:355.9px;font-size:15.9px;width:50.2px">104人</span>
<span style="left:1001.5px;top:355.9px;font-size:15.9px;width:40.2px">93人</span>
<span style="left:1285.0px;top:355.9px;font-size:15.9px;width:40.2px">32人</span>
<span style="left:1406.6px;top:355.1px;font-size:17.5px;width:41.8px">14人</span>
<span class="w" style="left:1459.7px;top:355.1px;font-size:17.5px;width:30.8px">7人</span>
<span class="r" style="left:236.2px;top:392.7px;font-size:21.2px;width:85.6px">2024年</span>
<span style="left:573.4px;top:394.9px;font-size:15.9px;width:50.2px">123人</span>
<span style="left:1074.5px;top:394.9px;font-size:15.9px;width:48.2px">114人</span>
<span style="left:1367.5px;top:394.9px;font-size:15.9px;width:40.2px">23人</span>
<span style="left:1441.8px;top:394.1px;font-size:17.5px;width:30.8px">8人</span>
<span class="w" style="left:1467.2px;top:394.1px;font-size:17.5px;width:30.8px">4人</span>
<span class="r" style="left:236.2px;top:431.7px;font-size:21.2px;width:85.6px">2025年</span>
<span style="left:628.3px;top:434.0px;font-size:15.9px;width:50.2px">149人</span>
<span style="left:1150.2px;top:434.0px;font-size:15.9px;width:40.2px">96人</span>
<span style="left:1389.7px;top:434.0px;font-size:15.9px;width:38.1px">17人</span>
<span style="left:1444.0px;top:433.2px;font-size:17.5px;width:30.8px">3人</span>
<span class="w" style="left:1462.9px;top:433.2px;font-size:17.5px;width:30.8px">6人</span>
</section>
<section>
<h2 style="left:114.4px;top:529.1px;font-size:28.3px;width:482.8px">■入退院サポートステーションについて</h2>
<h2 style="left:114.4px;top:566.7px;font-size:28.3px;width:565.2px">(1)入院前手続きはわかりやすく進みましたか</h2>
<span style="left:323.5px;top:742.9px;font-size:18.1px;width:31.9px">0%</span>
<span style="left:433.0px;top:742.9px;font-size:18.1px;width:43.4px">10%</span>
<span style="left:547.0px;top:742.9px;font-size:18.1px;width:45.7px">20%</span>
<span style="left:662.2px;top:742.9px;font-size:18.1px;width:45.7px">30%</span>
<span style="left:777.4px;top:742.9px;font-size:18.1px;width:45.7px">40%</span>
<span style="left:892.6px;top:742.9px;font-size:18.1px;width:45.7px">50%</span>
<span style="left:1007.8px;top:742.9px;font-size:18.1px;width:45.7px">60%</span>
<span style="left:1123.0px;top:742.9px;font-size:18.1px;width:45.7px">70%</span>
<span style="left:1238.2px;top:742.9px;font-size:18.1px;width:45.7px">80%</span>
<span style="left:1353.4px;top:742.9px;font-size:18.1px;width:45.7px">90%</span>
<span style="left:1462.9px;top:742.9px;font-size:18.1px;width:57.2px">100%</span>
<span class="r" style="left:236.2px;top:624.4px;font-size:21.2px;width:85.6px">2023年</span>
<span style="left:536.6px;top:626.7px;font-size:15.9px;width:40.2px">96人</span>
<span style="left:1008.8px;top:626.7px;font-size:15.9px;width:48.2px">114人</span>
<span style="left:1320.0px;top:626.7px;font-size:15.9px;width:38.1px">21人</span>
<span class="r" style="left:236.2px;top:663.5px;font-size:21.2px;width:85.6px">2024年</span>
<span style="left:573.4px;top:665.7px;font-size:15.9px;width:50.2px">123人</span>
<span style="left:1070.3px;top:665.7px;font-size:15.9px;width:48.2px">112人</span>
<span style="left:1359.1px;top:665.7px;font-size:15.9px;width:40.2px">23人</span>
<span class="r" style="left:236.2px;top:702.5px;font-size:21.2px;width:85.6px">2025年</span>
<span style="left:647.2px;top:704.8px;font-size:15.9px;width:50.2px">158人</span>
<span style="left:1165.0px;top:704.8px;font-size:15.9px;width:40.2px">85人</span>
<span style="left:1366.4px;top:704.8px;font-size:15.9px;width:38.1px">10人</span>
</section>
<section>
<h2 style="left:114.4px;top:800.3px;font-size:28.3px;width:569.2px">(2)退院調整のサポートには満足されましたか</h2>
<span style="left:323.5px;top:977.1px;font-size:18.1px;width:31.9px">0%</span>
<span style="left:433.0px;top:977.1px;font-size:18.1px;width:43.4px">10%</span>
<span style="left:547.0px;top:977.1px;font-size:18.1px;width:45.7px">20%</span>
<span style="left:662.2px;top:977.1px;font-size:18.1px;width:45.7px">30%</span>
<span style="left:777.4px;top:977.1px;font-size:18.1px;width:45.7px">40%</span>
<span style="left:892.6px;top:977.1px;font-size:18.1px;width:45.7px">50%</span>
<span style="left:1007.8px;top:977.1px;font-size:18.1px;width:45.7px">60%</span>
<span style="left:1123.0px;top:977.1px;font-size:18.1px;width:45.7px">70%</span>
<span style="left:1238.2px;top:977.1px;font-size:18.1px;width:45.7px">80%</span>
<span style="left:1353.4px;top:977.1px;font-size:18.1px;width:45.7px">90%</span>
<span style="left:1462.9px;top:977.1px;font-size:18.1px;width:57.2px">100%</span>
<span class="r" style="left:236.2px;top:858.6px;font-size:21.2px;width:85.6px">2023年</span>
<span style="left:529.8px;top:860.9px;font-size:15.9px;width:40.2px">93人</span>
<span style="left:965.8px;top:860.9px;font-size:15.9px;width:48.2px">101人</span>
<span style="left:1264.5px;top:860.9px;font-size:15.9px;width:40.2px">29人</span>
<span style="left:1372.6px;top:859.4px;font-size:17.5px;width:41.8px">17人</span>
<span class="w" style="left:1440.6px;top:859.4px;font-size:17.5px;width:41.8px">13人</span>
<span class="r" style="left:236.2px;top:897.7px;font-size:21.2px;width:85.6px">2024年</span>
<span style="left:557.6px;top:899.9px;font-size:15.9px;width:48.2px">115人</span>
<span style="left:1010.1px;top:899.9px;font-size:15.9px;width:50.2px">100人</span>
<span style="left:1268.4px;top:899.9px;font-size:15.9px;width:40.2px">20人</span>
<span style="left:1366.7px;top:898.5px;font-size:17.5px;width:41.8px">19人</span>
<span class="w" style="left:1438.4px;top:898.5px;font-size:17.5px;width:41.8px">15人</span>
<span class="r" style="left:236.2px;top:936.7px;font-size:21.2px;width:85.6px">2025年</span>
<span style="left:634.6px;top:939.0px;font-size:15.9px;width:50.2px">152人</span>
<span style="left:1108.0px;top:939.0px;font-size:15.9px;width:40.2px">70人</span>
<span style="left:1294.7px;top:939.0px;font-size:15.9px;width:38.1px">18人</span>
<span style="left:1373.0px;top:937.5px;font-size:17.5px;width:41.8px">18人</span>
<span class="w" style="left:1440.6px;top:937.5px;font-size:17.5px;width:41.8px">14人</span>
</section>
<section>
<h2 style="left:114.4px;top:1034.4px;font-size:28.3px;width:324.4px">■病室・廊下の環境ついて</h2>
<span style="left:470.4px;top:1945.4px;font-size:18.1px;width:31.9px">0%</span>
<span style="left:564.9px;top:1945.4px;font-size:18.1px;width:43.4px">10%</span>
<span style="left:664.0px;top:1945.4px;font-size:18.1px;width:45.7px">20%</span>
<span style="left:764.2px;top:1945.4px;font-size:18.1px;width:45.7px">30%</span>
<span style="left:864.4px;top:1945.4px;font-size:18.1px;width:45.7px">40%</span>
<span style="left:964.6px;top:1945.4px;font-size:18.1px;width:45.7px">50%</span>
<span style="left:1064.8px;top:1945.4px;font-size:18.1px;width:45.7px">60%</span>
<span style="left:1165.0px;top:1945.4px;font-size:18.1px;width:45.7px">70%</span>
<span style="left:1265.2px;top:1945.4px;font-size:18.1px;width:45.7px">80%</span>
<span style="left:1365.4px;top:1945.4px;font-size:18.1px;width:45.7px">90%</span>
<span style="left:1459.9px;top:1945.4px;font-size:18.1px;width:57.2px">100%</span>
<span class="r" style="left:234.9px;top:1094.0px;font-size:21.4px;width:235.0px">照明の明るさ（2023年）</span>
<span style="left:651.2px;top:1097.1px;font-size:15.9px;width:40.2px">94人</span>
<span style="left:1080.2px;top:1097.1px;font-size:15.9px;width:50.2px">126人</span>
<span style="left:1385.1px;top:1097.1px;font-size:15.9px;width:40.2px">26人</span>
<span class="r" style="left:362.1px;top:1125.3px;font-size:21.4px;width:107.8px">（2024年）</span>
<span style="left:653.5px;top:1128.4px;font-size:15.9px;width:50.2px">105人</span>
<span style="left:1101.3px;top:1128.4px;font-size:15.9px;width:50.2px">139人</span>
<span style="left:1398.2px;top:1128.4px;font-size:15.9px;width:40.2px">20人</span>
<span class="r" style="left:362.1px;top:1156.6px;font-size:21.4px;width:107.8px">（2025年）</span>
<span style="left:739.0px;top:1159.6px;font-size:15.9px;width:48.2px">151人</span>
<span style="left:1190.8px;top:1159.6px;font-size:15.9px;width:40.2px">93人</span>
<span style="left:1403.7px;top:1159.6px;font-size:15.9px;width:40.2px">23人</span>
<span class="r" style="left:255.1px;top:1187.9px;font-size:21.4px;width:214.8px">空調の管理（2023年）</span>
<span style="left:621.6px;top:1190.9px;font-size:15.9px;width:40.2px">79人</span>
<span style="left:975.6px;top:1190.9px;font-size:15.9px;width:50.2px">103人</span>
<span style="left:1266.7px;top:1190.9px;font-size:15.9px;width:40.2px">42人</span>
<span class="r" style="left:362.1px;top:1219.2px;font-size:21.4px;width:107.8px">（2024年）</span>
<span style="left:623.6px;top:1222.2px;font-size:15.9px;width:40.2px">86人</span>
<span style="left:996.7px;top:1222.2px;font-size:15.9px;width:50.2px">120人</span>
<span style="left:1306.4px;top:1222.2px;font-size:15.9px;width:40.2px">46人</span>
<span class="r" style="left:362.1px;top:1250.5px;font-size:21.4px;width:107.8px">（2025年）</span>
<span style="left:680.2px;top:1253.5px;font-size:15.9px;width:48.2px">119人</span>
<span style="left:1084.0px;top:1253.5px;font-size:15.9px;width:48.2px">101人</span>
<span style="left:1332.1px;top:1253.5px;font-size:15.9px;width:40.2px">32人</span>
<span class="r" style="left:126.7px;top:1281.8px;font-size:20px;width:343.2px">ベッド、シーツ等の清潔さ（2023年）</span>
<span style="left:682.8px;top:1284.8px;font-size:15.9px;width:48.2px">112人</span>
<span style="left:1134.5px;top:1284.8px;font-size:15.9px;width:48.2px">117人</span>
<span style="left:1399.9px;top:1284.8px;font-size:15.9px;width:38.1px">15人</span>
<span style="left:1440.8px;top:1283.5px;font-size:17.8px;width:31.3px">4人</span>
<span class="r" style="left:362.1px;top:1313.0px;font-size:21.4px;width:107.8px">（2024年）</span>
<span style="left:683.9px;top:1316.1px;font-size:15.9px;width:48.2px">121人</span>
<span style="left:1152.7px;top:1316.1px;font-size:15.9px;width:50.2px">135人</span>
<span style="left:1428.6px;top:1316.1px;font-size:15.9px;width:38.1px">12人</span>
<span style="left:1457.0px;top:1314.8px;font-size:17.8px;width:29.0px">1人</span>
<span class="r" style="left:362.1px;top:1344.3px;font-size:21.4px;width:107.8px">（2025年）</span>
<span style="left:763.6px;top:1347.4px;font-size:15.9px;width:50.2px">165人</span>
<span style="left:1227.5px;top:1347.4px;font-size:15.9px;width:40.2px">85人</span>
<span style="left:1413.9px;top:1347.4px;font-size:15.9px;width:38.1px">16人</span>
<span style="left:1452.1px;top:1346.1px;font-size:17.8px;width:31.3px">3人</span>
<span class="r" style="left:118.1px;top:1375.6px;font-size:20px;width:351.8px">冷蔵庫・ﾃﾚﾋﾞの使いやすさ（2023年）</span>
<span style="left:637.4px;top:1378.7px;font-size:15.9px;width:40.2px">87人</span>
<span style="left:992.5px;top:1378.7px;font-size:15.9px;width:40.2px">93人</span>
<span style="left:1245.0px;top:1378.7px;font-size:15.9px;width:40.2px">35人</span>
<span class="r" style="left:362.1px;top:1406.9px;font-size:21.4px;width:107.8px">（2024年）</span>
<span style="left:625.5px;top:1410.0px;font-size:15.9px;width:40.2px">87人</span>
<span style="left:988.6px;top:1410.0px;font-size:15.9px;width:48.2px">113人</span>
<span style="left:1260.5px;top:1410.0px;font-size:15.9px;width:40.2px">33人</span>
<span class="r" style="left:362.1px;top:1438.2px;font-size:21.4px;width:107.8px">（2025年）</span>
<span style="left:672.9px;top:1441.3px;font-size:15.9px;width:48.2px">115人</span>
<span style="left:1020.1px;top:1441.3px;font-size:15.9px;width:40.2px">72人</span>
<span style="left:1212.8px;top:1441.3px;font-size:15.9px;width:40.2px">33人</span>
<span class="r" style="left:215.9px;top:1469.5px;font-size:21.4px;width:254.0px">手すり設置場所（2023年）</span>
<span style="left:635.5px;top:1472.5px;font-size:15.9px;width:40.2px">86人</span>
<span style="left:1046.7px;top:1472.5px;font-size:15.9px;width:50.2px">125人</span>
<span style="left:1340.7px;top:1472.5px;font-size:15.9px;width:38.1px">21人</span>
<span style="left:1388.7px;top:1471.3px;font-size:17.8px;width:29.0px">1人</span>
<span style="left:1419.4px;top:1471.3px;font-size:17.8px;width:42.5px">16人</span>
<span class="r" style="left:362.1px;top:1500.8px;font-size:21.4px;width:107.8px">（2024年）</span>
<span style="left:657.2px;top:1503.8px;font-size:15.9px;width:50.2px">107人</span>
<span style="left:1062.0px;top:1503.8px;font-size:15.9px;width:48.2px">113人</span>
<span style="left:1319.2px;top:1503.8px;font-size:15.9px;width:40.2px">25人</span>
<span style="left:1369.6px;top:1502.6px;font-size:17.8px;width:31.3px">0人</span>
<span style="left:1402.5px;top:1502.6px;font-size:17.8px;width:42.5px">21人</span>
<span class="r" style="left:362.1px;top:1532.1px;font-size:21.4px;width:107.8px">（2025年）</span>
<span style="left:723.2px;top:1535.1px;font-size:15.9px;width:50.2px">143人</span>
<span style="left:1144.9px;top:1535.1px;font-size:15.9px;width:40.2px">84人</span>
<span style="left:1346.8px;top:1535.1px;font-size:15.9px;width:40.2px">26人</span>
<span style="left:1404.4px;top:1533.8px;font-size:17.8px;width:31.3px">3人</span>
<span style="left:1428.2px;top:1533.8px;font-size:17.8px;width:42.5px">13人</span>
<span class="r" style="left:233.7px;top:1563.4px;font-size:21.4px;width:236.2px">廊下の障害物（2023年）</span>
<span style="left:667.9px;top:1566.4px;font-size:15.9px;width:50.2px">105人</span>
<span style="left:1108.8px;top:1566.4px;font-size:15.9px;width:48.2px">118人</span>
<span style="left:1384.1px;top:1566.4px;font-size:15.9px;width:38.1px">19人</span>
<span style="left:1450.6px;top:1565.1px;font-size:17.8px;width:31.3px">5人</span>
<span class="r" style="left:362.1px;top:1594.7px;font-size:21.4px;width:107.8px">（2024年）</span>
<span style="left:715.9px;top:1597.7px;font-size:15.9px;width:50.2px">139人</span>
<span style="left:1167.4px;top:1597.7px;font-size:15.9px;width:50.2px">107人</span>
<span style="left:1402.9px;top:1597.7px;font-size:15.9px;width:38.1px">18人</span>
<span style="left:1452.1px;top:1596.4px;font-size:17.8px;width:31.3px">3人</span>
<span class="r" style="left:362.1px;top:1625.9px;font-size:21.4px;width:107.8px">（2025年）</span>
<span style="left:758.1px;top:1629.0px;font-size:15.9px;width:50.2px">162人</span>
<span style="left:1205.5px;top:1629.0px;font-size:15.9px;width:40.2px">79人</span>
<span style="left:1386.4px;top:1629.0px;font-size:15.9px;width:38.1px">19人</span>
<span style="left:1446.6px;top:1627.7px;font-size:17.8px;width:31.3px">2人</span>
<span class="r" style="left:158.3px;top:1657.2px;font-size:21.4px;width:311.6px">プライバシーへの配慮（2023年）</span>
<span style="left:661.1px;top:1660.3px;font-size:15.9px;width:48.2px">101人</span>
<span style="left:1081.2px;top:1660.3px;font-size:15.9px;width:48.2px">112人</span>
<span style="left:1359.4px;top:1660.3px;font-size:15.9px;width:40.2px">27人</span>
<span class="r" style="left:362.1px;top:1688.5px;font-size:21.4px;width:107.8px">（2024年）</span>
<span style="left:686.5px;top:1691.6px;font-size:15.9px;width:50.2px">123人</span>
<span style="left:1118.1px;top:1691.6px;font-size:15.9px;width:46.1px">111人</span>
<span style="left:1376.1px;top:1691.6px;font-size:15.9px;width:40.2px">28人</span>
<span class="r" style="left:362.1px;top:1719.8px;font-size:21.4px;width:107.8px">（2025年）</span>
<span style="left:741.6px;top:1722.9px;font-size:15.9px;width:50.2px">153人</span>
<span style="left:1177.9px;top:1722.9px;font-size:15.9px;width:40.2px">82人</span>
<span style="left:1374.3px;top:1722.9px;font-size:15.9px;width:40.2px">25人</span>
<span class="r" style="left:319.3px;top:1751.1px;font-size:21.4px;width:150.6px">清掃（2023年）</span>
<span style="left:673.8px;top:1754.2px;font-size:15.9px;width:50.2px">108人</span>
<span style="left:1118.7px;top:1754.2px;font-size:15.9px;width:48.2px">117人</span>
<span style="left:1392.0px;top:1754.2px;font-size:15.9px;width:38.1px">19人</span>
<span class="r" style="left:362.1px;top:1782.4px;font-size:21.4px;width:107.8px">（2024年）</span>
<span style="left:681.0px;top:1785.4px;font-size:15.9px;width:50.2px">120人</span>
<span style="left:1128.9px;top:1785.4px;font-size:15.9px;width:50.2px">124人</span>
<span style="left:1397.4px;top:1785.4px;font-size:15.9px;width:38.1px">19人</span>
<span class="r" style="left:362.1px;top:1813.7px;font-size:21.4px;width:107.8px">（2025年）</span>
<span style="left:752.6px;top:1816.7px;font-size:15.9px;width:50.2px">159人</span>
<span style="left:1201.8px;top:1816.7px;font-size:15.9px;width:40.2px">83人</span>
<span style="left:1393.7px;top:1816.7px;font-size:15.9px;width:38.1px">21人</span>
<span class="r" style="left:230.7px;top:1845.0px;font-size:21.4px;width:239.2px">浴室・シャワー（2023年）</span>
<span style="left:471.9px;top:1848.0px;font-size:15.9px;width:28.1px">0人</span>
<span class="r" style="left:362.1px;top:1876.3px;font-size:21.4px;width:107.8px">（2024年）</span>
<span style="left:471.9px;top:1879.3px;font-size:15.9px;width:28.1px">0人</span>
<span class="r" style="left:362.1px;top:1907.6px;font-size:21.4px;width:107.8px">（2025年）</span>
<span style="left:681.0px;top:1910.6px;font-size:15.9px;width:50.2px">120人</span>
<span style="left:1056.8px;top:1910.6px;font-size:15.9px;width:40.2px">82人</span>
<span style="left:1275.2px;top:1910.6px;font-size:15.9px;width:40.2px">37人</span>
</section>
</div>
</body>
</html>
